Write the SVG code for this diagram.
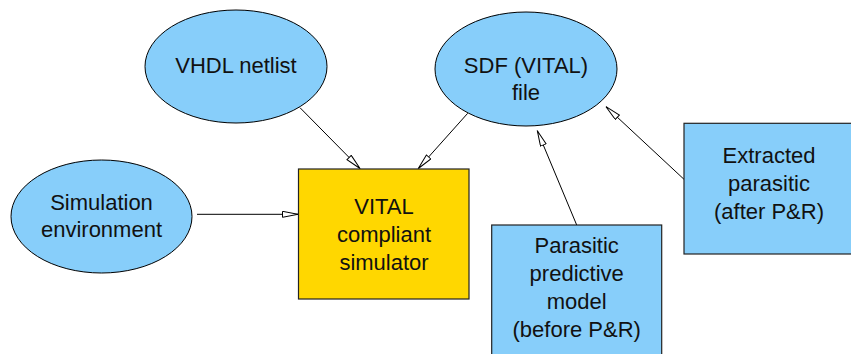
<svg xmlns="http://www.w3.org/2000/svg" width="851" height="354" viewBox="0 0 851 354">
  <style>
    .ell { fill: #87CEFA; stroke: #000; stroke-width: 1; }
    .box { fill: #87CEFA; stroke: #222; stroke-width: 1.2; }
    .sim { fill: #FFD700; stroke: #222; stroke-width: 1.2; }
    .edge { fill: none; stroke: #000; stroke-width: 1; marker-end: url(#head); }
    text { font-family: "Liberation Sans", Arial, sans-serif; font-size: 22px; fill: #111; text-anchor: middle; }
  </style>
  <defs>
    <marker id="head" markerUnits="userSpaceOnUse" markerWidth="18" markerHeight="9" refX="16" refY="3.5" orient="auto">
      <path d="M0.5,0.5 L16,3.5 L0.5,6.5 z" fill="#fff" stroke="#000" stroke-width="1"/>
    </marker>
  </defs>

  <g id="edges">
    <line class="edge" x1="300" y1="107.7" x2="360" y2="168.5"/>
    <line class="edge" x1="467.7" y1="113.3" x2="418.3" y2="168.5"/>
    <line class="edge" x1="197" y1="214.3" x2="298" y2="214.3"/>
    <line class="edge" x1="576.7" y1="225" x2="537.3" y2="130.7"/>
    <line class="edge" x1="684" y1="179.3" x2="606" y2="106.7"/>
  </g>

  <g id="vhdl-netlist">
    <ellipse class="ell" cx="236" cy="66.5" rx="91" ry="56.5"/>
    <text x="236" y="73">VHDL netlist</text>
  </g>

  <g id="sdf-file">
    <ellipse class="ell" cx="526" cy="69" rx="91" ry="57"/>
    <text x="526" y="73">SDF (VITAL)</text>
    <text x="526" y="100">file</text>
  </g>

  <g id="simulation-environment">
    <ellipse class="ell" cx="101.5" cy="216.5" rx="90.5" ry="56.5"/>
    <text x="101.5" y="210">Simulation</text>
    <text x="101.5" y="237">environment</text>
  </g>

  <g id="vital-simulator">
    <rect class="sim" x="298.5" y="169" width="170.5" height="130"/>
    <text x="384" y="214">VITAL</text>
    <text x="384" y="242">compliant</text>
    <text x="384" y="270">simulator</text>
  </g>

  <g id="parasitic-model">
    <rect class="box" x="491.7" y="225" width="170" height="140"/>
    <text x="576.7" y="253">Parasitic</text>
    <text x="576.7" y="281">predictive</text>
    <text x="576.7" y="309">model</text>
    <text x="576.7" y="337">(before P&amp;R)</text>
  </g>

  <g id="extracted-parasitic">
    <rect class="box" x="684" y="123.3" width="170" height="130.7"/>
    <text x="769" y="163">Extracted</text>
    <text x="769" y="191">parasitic</text>
    <text x="769" y="219">(after P&amp;R)</text>
  </g>
</svg>
